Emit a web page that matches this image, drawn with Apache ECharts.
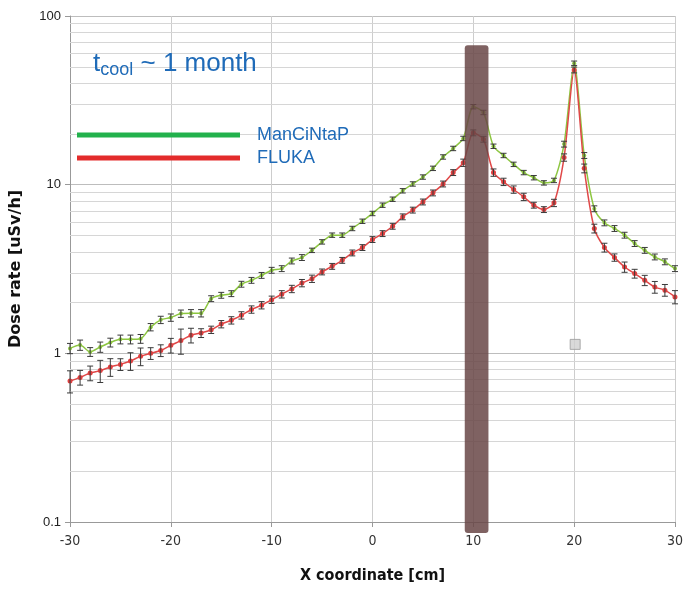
<!DOCTYPE html>
<html>
<head>
    <meta charset="utf-8">
    <title>Dose rate</title>
    <script src="https://cdn.jsdelivr.net/npm/echarts@6/dist/echarts.min.js"></script>
</head>
<body style="margin:0">
    <div id="main" style="width:686px;height:594px"></div>
    <script type="text/javascript">
        var xs = [];
        for (var i = -30; i <= 30; i++) xs.push(i);

        // ManCiNtaP, -30 .. 30 cm
        var manc = [1.07, 1.12, 1.02, 1.09, 1.16, 1.21, 1.21, 1.22, 1.43, 1.58, 1.63,
                    1.72, 1.73, 1.73, 2.11, 2.21, 2.26, 2.57, 2.71, 2.90, 3.11,
                    3.18, 3.53, 3.70, 4.08, 4.58, 5.02, 5.02, 5.50, 6.07, 6.75,
                    7.56, 8.20, 9.20, 10.1, 11.1, 12.5, 14.6, 16.4, 18.8, 29.0,
                    26.8, 16.9, 14.9, 13.2, 11.8, 11.0, 10.25, 10.6, 17.4, 52.5,
                    14.9, 7.20, 5.94, 5.50, 5.02, 4.48, 4.08, 3.73, 3.49, 3.18];
        // FLUKA
        var fluka = [0.685, 0.72, 0.764, 0.79, 0.83, 0.86, 0.90, 0.96, 1.00, 1.04, 1.115,
                     1.19, 1.28, 1.32, 1.38, 1.49, 1.57, 1.68, 1.82, 1.93, 2.08,
                     2.24, 2.41, 2.61, 2.77, 3.04, 3.28, 3.56, 3.94, 4.24, 4.73,
                     5.13, 5.67, 6.45, 7.07, 7.90, 8.94, 10.1, 11.8, 13.5, 20.3,
                     18.6, 11.8, 10.4, 9.36, 8.47, 7.56, 7.12, 7.80, 14.5, 47.9,
                     12.5, 5.50, 4.24, 3.70, 3.25, 2.97, 2.71, 2.47, 2.37, 2.16];
        // relative error (half width)
        var mancErr = [0.07, 0.07, 0.06, 0.07, 0.06, 0.06, 0.06, 0.06, 0.05, 0.05, 0.05,
                       0.05, 0.05, 0.05, 0.04, 0.04, 0.04, 0.04, 0.04, 0.04, 0.04,
                       0.04, 0.04, 0.04, 0.03, 0.03, 0.03, 0.03, 0.03, 0.03, 0.03,
                       0.03, 0.03, 0.03, 0.03, 0.03, 0.03, 0.03, 0.03, 0.03, 0.03,
                       0.03, 0.03, 0.03, 0.03, 0.03, 0.03, 0.03, 0.03, 0.04, 0.03,
                       0.04, 0.04, 0.04, 0.04, 0.04, 0.04, 0.04, 0.04, 0.04, 0.04];
        var flukaErr = [0.15, 0.10, 0.10, 0.15, 0.12, 0.08, 0.12, 0.12, 0.08, 0.08, 0.10,
                        0.17, 0.10, 0.06, 0.05, 0.05, 0.05, 0.05, 0.05, 0.05, 0.05,
                        0.05, 0.05, 0.05, 0.05, 0.04, 0.04, 0.04, 0.04, 0.04, 0.04,
                        0.04, 0.04, 0.04, 0.04, 0.04, 0.04, 0.04, 0.04, 0.05, 0.04,
                        0.04, 0.05, 0.05, 0.05, 0.05, 0.04, 0.04, 0.05, 0.05, 0.04,
                        0.06, 0.06, 0.06, 0.05, 0.07, 0.06, 0.07, 0.08, 0.08, 0.09];

        var yMinor = [0.2, 0.3, 0.4, 0.5, 0.6, 0.7, 0.8, 0.9,
                      2, 3, 4, 5, 6, 7, 8, 9,
                      20, 30, 40, 50, 60, 70, 80, 90];
        // shaded block around x = 10 cm: [x0, x1, yTop, yBottom]
        var block = [[9.15, 11.5, 67, 0.086]];
        var oddMarks = [[20.1, 1.13]];

        function pairs(v) {
            return xs.map(function (x, i) { return [x, v[i]]; });
        }
        function errData(v, e) {
            return xs.map(function (x, i) { return [x, v[i] * (1 - e[i]), v[i] * (1 + e[i])]; });
        }
        function renderErr(params, api) {
            var x = api.value(0);
            var lo = api.coord([x, api.value(1)]);
            var hi = api.coord([x, api.value(2)]);
            var w = 3;
            var st = { stroke: '#3a3a3a', lineWidth: 1 };
            return { type: 'group', children: [
                { type: 'line', shape: { x1: lo[0], y1: lo[1], x2: hi[0], y2: hi[1] }, style: st },
                { type: 'line', shape: { x1: lo[0] - w, y1: lo[1], x2: lo[0] + w, y2: lo[1] }, style: st },
                { type: 'line', shape: { x1: hi[0] - w, y1: hi[1], x2: hi[0] + w, y2: hi[1] }, style: st }
            ]};
        }
        function renderBlock(params, api) {
            var a = api.coord([api.value(0), api.value(2)]);
            var b = api.coord([api.value(1), api.value(3)]);
            return { type: 'rect', shape: { x: a[0], y: a[1], width: b[0] - a[0], height: b[1] - a[1], r: 3 },
                     style: { fill: 'rgba(105,70,70,0.85)' } };
        }

        var myChart = echarts.init(document.getElementById('main'));
        var option = {
            animation: false,
            title: {
                text: '{t|t}{s|cool}{t| ~ 1 month}',
                left: 88, top: 42,
                textStyle: { fontWeight: 'normal', rich: {
                    t: { fontSize: 26, color: '#1f6bb8', fontWeight: 'normal', fontFamily: 'Liberation Sans', lineHeight: 34 },
                    s: { fontSize: 18, color: '#1f6bb8', fontWeight: 'normal', fontFamily: 'Liberation Sans', lineHeight: 34, padding: [12, 0, 0, 0] }
                }}
            },
            legend: {
                data: [
                    { name: 'ManCiNtaP', itemStyle: { color: '#22b14c' } },
                    { name: 'FLUKA', itemStyle: { color: '#e32b2b' } }
                ],
                orient: 'vertical',
                left: 77, top: 126, padding: 0, z: 10,
                icon: 'rect',
                itemWidth: 163, itemHeight: 5, itemGap: 5,
                textStyle: { color: '#1f6bb8', fontSize: 18, fontFamily: 'Liberation Sans', padding: [0, 0, 0, 12] }
            },
            grid: { left: 68, right: 8, top: 16, bottom: 72 },
            xAxis: {
                type: 'value', min: -30, max: 30, interval: 10,
                name: 'X coordinate [cm]', nameLocation: 'middle', nameGap: 46,
                nameTextStyle: { fontSize: 16, fontWeight: 'bold', color: '#111', fontFamily: "'Liberation Sans Narrow', 'DejaVu Sans Condensed', sans-serif" },
                axisLine: { onZero: false, lineStyle: { color: '#999' } },
                axisTick: { show: true, length: 5, lineStyle: { color: '#999' } },
                axisLabel: { fontSize: 14, color: '#333', margin: 12, fontFamily: "'Liberation Sans Narrow', 'DejaVu Sans Condensed', sans-serif" },
                splitLine: { show: true, lineStyle: { color: '#cdcdcd' } }
            },
            yAxis: {
                type: 'log', logBase: 10, min: 0.1, max: 100,
                name: 'Dose rate [uSv/h]', nameLocation: 'middle', nameGap: 46,
                nameTextStyle: { fontSize: 16, fontWeight: 'bold', color: '#111', fontFamily: "'DejaVu Sans'" },
                axisLine: { show: true, onZero: false, lineStyle: { color: '#999' } },
                axisTick: { show: true, length: 5, lineStyle: { color: '#999' } },
                axisLabel: { fontSize: 13, color: '#222', margin: 9, fontFamily: 'Liberation Sans' },
                splitLine: { show: true, lineStyle: { color: '#bdbdbd' } }
            },
            series: [
                {
                    type: 'scatter', data: [], z: 0, silent: true,
                    markLine: {
                        silent: true, symbol: 'none', label: { show: false }, z: 1,
                        lineStyle: { color: '#d6d6d6', width: 1, type: 'solid' },
                        data: yMinor.map(function (v) { return { yAxis: v }; })
                    }
                },
                {
                    name: 'ManCiNtaP', type: 'line', data: pairs(manc), smooth: 0.25,
                    symbol: 'circle', symbolSize: 4,
                    lineStyle: { color: '#8dc641', width: 1.5 },
                    itemStyle: { color: '#8dc641' }, z: 3
                },
                {
                    name: 'FLUKA', type: 'line', data: pairs(fluka), smooth: 0.25,
                    symbol: 'circle', symbolSize: 5,
                    lineStyle: { color: '#e04848', width: 1.5 },
                    itemStyle: { color: '#e04040' }, z: 3
                },
                { type: 'custom', renderItem: renderErr, data: errData(manc, mancErr), encode: { x: 0, y: [1, 2] }, z: 4, silent: true },
                { type: 'custom', renderItem: renderErr, data: errData(fluka, flukaErr), encode: { x: 0, y: [1, 2] }, z: 4, silent: true },
                { type: 'custom', renderItem: renderBlock, data: block, encode: { x: [0, 1], y: [2, 3] }, clip: false, z: 6, silent: true },
                {
                    type: 'scatter', data: oddMarks, symbol: 'rect', symbolSize: 10, silent: true,
                    itemStyle: { color: '#cfcfcf', borderColor: '#9a9a9a', borderWidth: 1 }, z: 5
                }
            ]
        };
        myChart.setOption(option);
    </script>
</body>
</html>
